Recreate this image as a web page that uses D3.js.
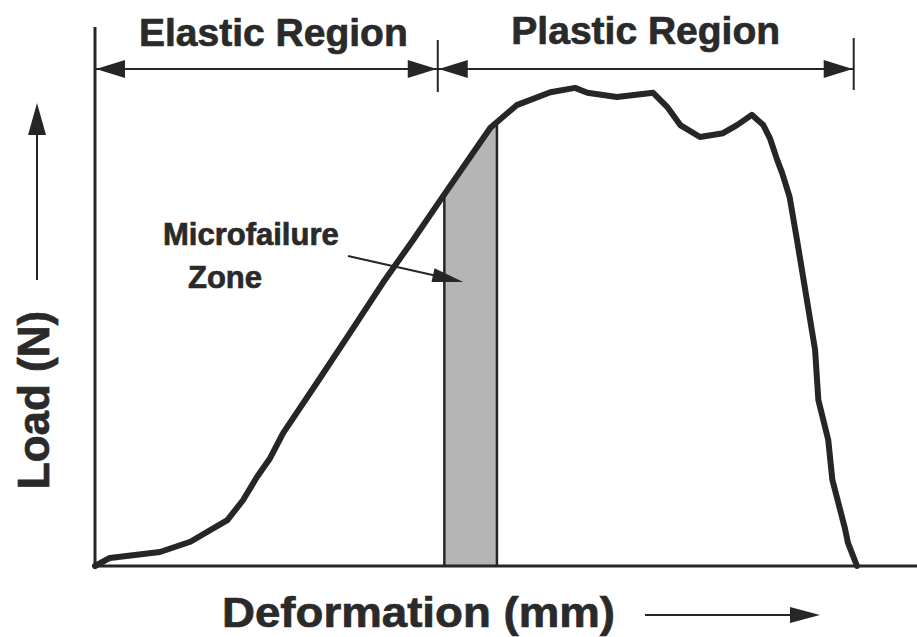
<!DOCTYPE html>
<html>
<head>
<meta charset="utf-8">
<script src="https://cdn.jsdelivr.net/npm/d3@7"></script>
<style>
  html, body { margin: 0; padding: 0; background: #fff; }
  text { font-family: "Liberation Sans", Arial, sans-serif; font-weight: bold; fill: #2a2a2a;
         stroke: #2a2a2a; stroke-width: 0.7px; }
</style>
</head>
<body>
<script>
// load-deformation curve (arbitrary units, 0-100)
var deformation = [0, 1.8, 7.9, 11.6, 16.1, 18.0, 19.7, 21.3, 22.9, 27.0, 31.0, 35.0, 38.7, 42.2,
  48.1, 51.3, 55.4, 58.4, 59.9, 63.5, 67.9, 69.6, 71.2, 73.6, 76.4, 78.1, 79.9, 81.3, 82.1,
  83.0, 83.6, 84.5, 85.4, 85.8, 86.6, 87.6, 88.0, 89.2, 89.7, 91.2, 91.6, 92.7];
var load = [0, 1.5, 2.6, 4.5, 8.5, 12.2, 16.5, 20.0, 24.7, 34.0, 43.2, 52.5, 60.5, 68.3,
  81.3, 85.5, 87.9, 88.7, 87.8, 87.0, 87.8, 85.2, 81.8, 79.6, 80.3, 81.8, 83.7, 81.8, 79.4,
  75.3, 72.9, 68.5, 60.5, 56.8, 49.4, 40.1, 30.8, 23.4, 16.0, 7.2, 4.3, 0];

// regions along the deformation axis
var regionNames = ["Elastic Region", "Plastic Region"];
var regionBounds = [[0, 41.7], [41.7, 92.3]];
var microZone = [42.5, 48.9];

var width = 917, height = 637;
var x = d3.scaleLinear().domain([0, 100]).range([95, 917]);
var y = d3.scaleLinear().domain([0, 100]).range([566, 27]);

var ink = "#262626";

var svg = d3.select("body").append("svg")
    .attr("width", width)
    .attr("height", height);

var points = deformation.map(function(d, i) { return [d, load[i]]; });

// filled triangle arrow head, tip at (tx,ty) pointing along angle a
function head(g, tx, ty, a, len, half) {
  var c = Math.cos(a), s = Math.sin(a);
  var bx = tx - c * len, by = ty - s * len;
  g.append("path")
    .attr("d", "M" + tx + "," + ty +
      "L" + (bx - s * half) + "," + (by + c * half) +
      "L" + (bx + s * half) + "," + (by - c * half) + "Z")
    .attr("fill", ink);
}

// microfailure zone: area under the curve, clipped to the zone
var area = d3.area()
    .x(function(d) { return x(d[0]); })
    .y0(y(0))
    .y1(function(d) { return y(d[1]); });

var defs = svg.append("defs");
defs.append("clipPath").attr("id", "zoneClip")
  .append("rect")
    .attr("x", x(microZone[0]))
    .attr("y", 0)
    .attr("width", x(microZone[1]) - x(microZone[0]))
    .attr("height", height);
defs.append("clipPath").attr("id", "underCurve")
  .append("path").attr("d", area(points));

svg.append("path")
    .attr("d", area(points))
    .attr("fill", "#b5b5b5")
    .attr("clip-path", "url(#zoneClip)");

svg.append("g").attr("clip-path", "url(#underCurve)")
  .selectAll("line")
  .data(microZone)
  .enter().append("line")
    .attr("x1", function(d) { return x(d); })
    .attr("x2", function(d) { return x(d); })
    .attr("y1", y(0))
    .attr("y2", y(100))
    .attr("stroke", ink)
    .attr("stroke-width", 2.5);

// axes (plain lines, no ticks)
svg.append("line")
    .attr("x1", x(0)).attr("x2", x(0))
    .attr("y1", y(0) + 1).attr("y2", y(100))
    .attr("stroke", ink).attr("stroke-width", 3);
svg.append("line")
    .attr("x1", x(0) - 1).attr("x2", x(100))
    .attr("y1", y(0)).attr("y2", y(0))
    .attr("stroke", ink).attr("stroke-width", 3);

// the curve
svg.append("path")
    .attr("d", d3.line()
      .x(function(d) { return x(d[0]); })
      .y(function(d) { return y(d[1]); })(points))
    .attr("fill", "none")
    .attr("stroke", ink)
    .attr("stroke-width", 6)
    .attr("stroke-linejoin", "round")
    .attr("stroke-linecap", "round");

// region dimension arrows at the top
var dimY = 69;
var dims = svg.append("g");
regionBounds.forEach(function(b, i) {
  var x0 = x(b[0]), x1 = x(b[1]);
  dims.append("line")
      .attr("x1", x0).attr("x2", x1)
      .attr("y1", dimY).attr("y2", dimY)
      .attr("stroke", ink).attr("stroke-width", 2);
  head(dims, x0 + 1, dimY, Math.PI, 29, 9);
  head(dims, x1 - 1, dimY, 0, 29, 9);
  dims.append("text")
      .attr("x", (x0 + x1) / 2 + (i == 0 ? 7 : 0))
      .attr("y", i == 0 ? 46 : 44)
      .attr("text-anchor", "middle")
      .attr("font-size", 39)
      .text(regionNames[i]);
});
// boundary ticks
[[regionBounds[1][0], 40, 92], [regionBounds[1][1], 38, 90]].forEach(function(t) {
  dims.append("line")
      .attr("x1", x(t[0])).attr("x2", x(t[0]))
      .attr("y1", t[1]).attr("y2", t[2])
      .attr("stroke", ink).attr("stroke-width", 2);
});

// microfailure label and arrow
svg.append("text")
    .attr("x", 163).attr("y", 245)
    .attr("font-size", 31)
    .text("Microfailure");
svg.append("text")
    .attr("x", 188).attr("y", 288)
    .attr("font-size", 31)
    .text("Zone");
var ax0 = 348, ay0 = 256, ax1 = x(44.8), ay1 = y(52.7);
var ang = Math.atan2(ay1 - ay0, ax1 - ax0);
svg.append("line")
    .attr("x1", ax0).attr("y1", ay0)
    .attr("x2", ax1 - Math.cos(ang) * 20).attr("y2", ay1 - Math.sin(ang) * 20)
    .attr("stroke", ink).attr("stroke-width", 2);
head(svg, ax1, ay1, ang, 31, 7);

// axis titles with direction arrows
svg.append("text")
    .attr("x", 222).attr("y", 627)
    .attr("font-size", 43)
    .attr("textLength", 393)
    .attr("lengthAdjust", "spacingAndGlyphs")
    .text("Deformation (mm)");
svg.append("line")
    .attr("x1", 645).attr("x2", 800)
    .attr("y1", 615).attr("y2", 615)
    .attr("stroke", ink).attr("stroke-width", 2);
head(svg, 820, 615, 0, 30, 8);

svg.append("text")
    .attr("transform", "translate(49,400) rotate(-90)")
    .attr("text-anchor", "middle")
    .attr("font-size", 44)
    .text("Load (N)");
svg.append("line")
    .attr("x1", 37).attr("x2", 37)
    .attr("y1", 280).attr("y2", 120)
    .attr("stroke", ink).attr("stroke-width", 2);
head(svg, 37, 103, -Math.PI / 2, 32, 9);
</script>
</body>
</html>
